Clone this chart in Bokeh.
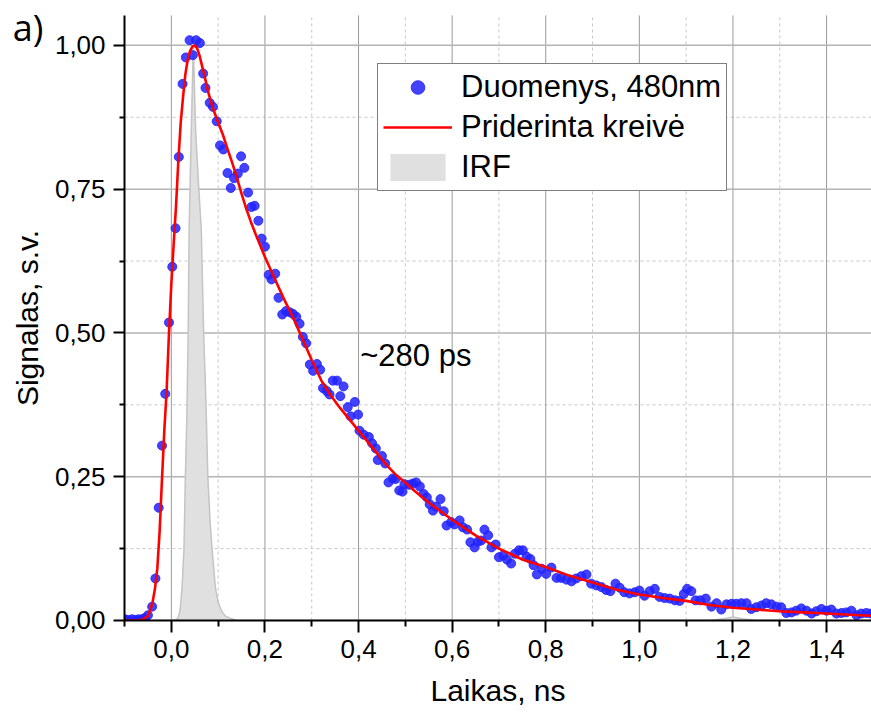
from bokeh.plotting import figure
from bokeh.models import Range1d, FixedTicker, Label, Legend, LegendItem, LinearAxis
from bokeh.embed import file_html
from bokeh.resources import INLINE

# ---------------- data ----------------
data_x = [-0.099, -0.092, -0.084, -0.077, -0.070, -0.063, -0.057, -0.050, -0.041, -0.034,
          -0.027, -0.020, -0.013, -0.005, 0.002, 0.009, 0.016, 0.024, 0.031, 0.039,
          0.046, 0.053, 0.061, 0.068, 0.073, 0.082, 0.089, 0.097, 0.104, 0.111,
          0.120, 0.127, 0.134, 0.142, 0.149, 0.156, 0.164, 0.171, 0.178, 0.186,
          0.193, 0.200, 0.208, 0.214, 0.222, 0.229, 0.237, 0.245, 0.253, 0.260,
          0.267, 0.274, 0.281, 0.288, 0.296, 0.303, 0.311, 0.318, 0.324, 0.332,
          0.338, 0.345, 0.354, 0.361, 0.368, 0.377, 0.383, 0.392, 0.399, 0.402,
          0.411, 0.422, 0.429, 0.437, 0.441, 0.450, 0.457, 0.464, 0.473, 0.479,
          0.487, 0.494, 0.498, 0.508, 0.516, 0.523, 0.531, 0.539, 0.546, 0.552,
          0.559, 0.566, 0.575, 0.582, 0.588, 0.598, 0.605, 0.616, 0.623, 0.632,
          0.639, 0.648, 0.655, 0.662, 0.669, 0.677, 0.684, 0.693, 0.700, 0.709,
          0.717, 0.726, 0.734, 0.743, 0.751, 0.759, 0.767, 0.774, 0.781, 0.791,
          0.801, 0.812, 0.823, 0.833, 0.844, 0.855, 0.865, 0.876, 0.887, 0.897,
          0.908, 0.919, 0.929, 0.938, 0.949, 0.958, 0.968, 0.979, 0.990, 1.000,
          1.011, 1.022, 1.033, 1.043, 1.054, 1.065, 1.076, 1.086, 1.095, 1.102,
          1.111, 1.120, 1.130, 1.142, 1.154, 1.165, 1.175, 1.186, 1.197, 1.207,
          1.218, 1.229, 1.239, 1.250, 1.261, 1.271, 1.282, 1.293, 1.303, 1.314,
          1.325, 1.335, 1.346, 1.357, 1.368, 1.378, 1.389, 1.400, 1.410, 1.421,
          1.432, 1.442, 1.453, 1.464, 1.474, 1.485, 1.495]
data_y = [0.002, 0.001, 0.002, 0.001, 0.002, 0.002, 0.004, 0.009, 0.024, 0.073,
          0.196, 0.304, 0.394, 0.518, 0.615, 0.682, 0.806, 0.933, 0.979, 1.009,
          0.983, 1.009, 1.004, 0.951, 0.926, 0.900, 0.893, 0.868, 0.826, 0.819,
          0.778, 0.752, 0.769, 0.777, 0.807, 0.787, 0.744, 0.719, 0.721, 0.695,
          0.664, 0.650, 0.601, 0.593, 0.603, 0.561, 0.532, 0.538, 0.536, 0.533,
          0.528, 0.516, 0.493, 0.482, 0.445, 0.434, 0.446, 0.436, 0.404, 0.399,
          0.393, 0.417, 0.417, 0.390, 0.407, 0.371, 0.355, 0.380, 0.358, 0.330,
          0.323, 0.319, 0.308, 0.299, 0.279, 0.286, 0.273, 0.240, 0.247, 0.246,
          0.226, 0.224, 0.237, 0.236, 0.238, 0.240, 0.233, 0.220, 0.214, 0.202,
          0.191, 0.198, 0.211, 0.190, 0.165, 0.171, 0.167, 0.174, 0.162, 0.158,
          0.136, 0.127, 0.137, 0.139, 0.158, 0.148, 0.127, 0.132, 0.110, 0.113,
          0.106, 0.099, 0.116, 0.122, 0.122, 0.111, 0.107, 0.096, 0.080, 0.090,
          0.081, 0.092, 0.074, 0.074, 0.071, 0.068, 0.073, 0.077, 0.080, 0.064,
          0.061, 0.058, 0.053, 0.051, 0.064, 0.057, 0.049, 0.047, 0.049, 0.052,
          0.043, 0.051, 0.055, 0.041, 0.039, 0.038, 0.035, 0.034, 0.046, 0.055,
          0.051, 0.035, 0.035, 0.038, 0.024, 0.030, 0.019, 0.028, 0.029, 0.029,
          0.030, 0.030, 0.020, 0.023, 0.026, 0.030, 0.028, 0.024, 0.023, 0.013,
          0.014, 0.017, 0.021, 0.017, 0.012, 0.016, 0.020, 0.017, 0.019, 0.012,
          0.013, 0.014, 0.017, 0.009, 0.012, 0.013, 0.012]

fit_x = [-0.10, -0.07, -0.06, -0.05, -0.045, -0.04, -0.035, -0.03, -0.025, -0.02,
         -0.015, -0.01, -0.005, 0.0, 0.005, 0.01, 0.015, 0.02, 0.025, 0.03,
         0.035, 0.04, 0.045, 0.05, 0.055, 0.06, 0.07, 0.08, 0.09, 0.10,
         0.11, 0.12, 0.13, 0.14, 0.15, 0.16, 0.17, 0.18, 0.19, 0.20,
         0.22, 0.24, 0.26, 0.28, 0.30, 0.32, 0.34, 0.36, 0.38, 0.40,
         0.42, 0.44, 0.46, 0.48, 0.50, 0.52, 0.55, 0.60, 0.65, 0.70,
         0.75, 0.80, 0.85, 0.90, 0.95, 1.00, 1.05, 1.10, 1.15, 1.20,
         1.25, 1.30, 1.35, 1.40, 1.45, 1.50]
fit_y = [0.0, 0.0, 0.002, 0.008, 0.018, 0.032, 0.055, 0.090, 0.155, 0.245,
         0.330, 0.400, 0.500, 0.585, 0.655, 0.720, 0.800, 0.865, 0.910, 0.950,
         0.975, 0.990, 0.998, 1.000, 0.995, 0.983, 0.950, 0.915, 0.888, 0.866,
         0.845, 0.820, 0.796, 0.770, 0.742, 0.716, 0.693, 0.672, 0.652, 0.632,
         0.596, 0.560, 0.527, 0.490, 0.453, 0.418, 0.392, 0.370, 0.350, 0.330,
         0.310, 0.290, 0.270, 0.253, 0.240, 0.225, 0.205, 0.175, 0.148, 0.125,
         0.106, 0.093, 0.078, 0.066, 0.054, 0.045, 0.039, 0.034, 0.027, 0.022,
         0.019, 0.016, 0.014, 0.012, 0.010, 0.008]

irf_x = [-0.10, 0.005, 0.012, 0.016, 0.019, 0.023, 0.027, 0.030, 0.033, 0.036,
         0.038, 0.042, 0.047, 0.052, 0.058, 0.064, 0.069, 0.074, 0.078, 0.083,
         0.087, 0.094, 0.100, 0.107, 0.115, 0.125, 0.140, 1.15, 1.18, 1.20,
         1.22, 1.25, 1.50]
irf_y = [0.0, 0.0, 0.002, 0.008, 0.020, 0.058, 0.125, 0.250, 0.350, 0.500,
         0.680, 0.830, 1.000, 0.850, 0.760, 0.680, 0.500, 0.380, 0.250, 0.170,
         0.125, 0.058, 0.032, 0.017, 0.008, 0.004, 0.0, 0.0, 0.003, 0.006,
         0.003, 0.0, 0.0]

x_ticks = [0.0, 0.2, 0.4, 0.6, 0.8, 1.0, 1.2, 1.4]
x_tick_labels = ["0,0", "0,2", "0,4", "0,6", "0,8", "1,0", "1,2", "1,4"]
x_minor = [-0.1, 0.1, 0.3, 0.5, 0.7, 0.9, 1.1, 1.3, 1.5]
y_ticks = [0.0, 0.25, 0.5, 0.75, 1.0]
y_tick_labels = ["0,00", "0,25", "0,50", "0,75", "1,00"]
y_minor = [0.125, 0.375, 0.625, 0.875]

# ---------------- view / axis extents ----------------
X_START, X_END = -0.365, 1.496        # whole canvas width
Y_START, Y_END = -0.167, 1.078        # whole canvas height
AX_X0, AX_X1 = -0.1, 1.5              # data-area extent in x
AX_Y0, AX_Y1 = 0.0, 1.052             # data-area extent in y

FONT = "Liberation Sans"

p = figure(width=871, height=716, x_range=Range1d(X_START, X_END), y_range=Range1d(Y_START, Y_END),
           x_axis_type=None, y_axis_type=None, title=None,
           output_backend="svg", toolbar_location=None,
           min_border_left=0, min_border_right=0, min_border_top=0, min_border_bottom=0)
p.outline_line_color = None
p.background_fill_color = "white"
p.border_fill_color = "white"

# ---- grid lines (from the tick arrays) ----
vmin = [v for v in x_minor if AX_X0 < v < AX_X1]
p.segment(x0=vmin, y0=[AX_Y0] * len(vmin), x1=vmin, y1=[AX_Y1] * len(vmin),
          line_color="#c8c8c8", line_width=1, line_dash="3 3")
hmin = y_minor
p.segment(x0=[AX_X0] * len(hmin), y0=hmin, x1=[AX_X1] * len(hmin), y1=hmin,
          line_color="#c8c8c8", line_width=1, line_dash="3 3")
p.segment(x0=x_ticks, y0=[AX_Y0] * len(x_ticks), x1=x_ticks, y1=[AX_Y1] * len(x_ticks),
          line_color="#9a9a9a", line_width=1)
hmaj = [v for v in y_ticks if v > AX_Y0]
p.segment(x0=[AX_X0] * len(hmaj), y0=hmaj, x1=[AX_X1] * len(hmaj), y1=hmaj,
          line_color="#b4b4b4", line_width=1.5)

# ---- series ----
irf_area = p.varea(x=irf_x, y1=[0.0] * len(irf_x), y2=irf_y, fill_color="#e0e0e0")
p.line(irf_x, irf_y, line_color="#c4c4c4", line_width=1.5)
pts = p.scatter(data_x, data_y, size=9, fill_color="#2222ff", line_color="#2222ff", alpha=0.85)
fit = p.line(fit_x, fit_y, line_color="#ff0000", line_width=2.6)

# white masks outside the data area (plot clipping)
p.quad(left=[X_START], right=[X_END], bottom=[Y_START], top=[AX_Y0],
       fill_color="white", line_color=None)
p.quad(left=[X_START], right=[AX_X0], bottom=[Y_START], top=[Y_END],
       fill_color="white", line_color=None)

# ---- axes ----
xt = FixedTicker(ticks=x_ticks, minor_ticks=x_minor)
yt = FixedTicker(ticks=y_ticks, minor_ticks=y_minor)
xaxis = LinearAxis(ticker=xt, fixed_location=AX_Y0, bounds=(AX_X0, AX_X1),
                   major_label_overrides=dict(zip(x_ticks, x_tick_labels)),
                   axis_label="Laikas, ns")
yaxis = LinearAxis(ticker=yt, fixed_location=AX_X0, bounds=(AX_Y0, AX_Y1),
                   major_label_overrides=dict(zip(y_ticks, y_tick_labels)),
                   axis_label="Signalas, s.v.")
for ax in (xaxis, yaxis):
    ax.axis_line_color = "black"
    ax.axis_line_width = 2
    ax.major_tick_line_color = "black"
    ax.major_tick_line_width = 2
    ax.minor_tick_line_color = "black"
    ax.minor_tick_line_width = 2
    ax.major_tick_in = 0
    ax.minor_tick_in = 0
    ax.major_label_text_font = FONT
    ax.major_label_text_font_size = "26px"
    ax.major_label_text_color = "black"
    ax.axis_label_text_font = FONT
    ax.axis_label_text_font_size = "30px"
    ax.axis_label_text_font_style = "normal"
    ax.axis_label_text_color = "black"
xaxis.major_tick_out = 12
xaxis.minor_tick_out = 6
yaxis.major_tick_out = 11
yaxis.minor_tick_out = 5
xaxis.major_label_standoff = 8
yaxis.major_label_standoff = 8
xaxis.axis_label_standoff = 12
yaxis.axis_label_standoff = 8
p.add_layout(xaxis, "below")
p.add_layout(yaxis, "left")

# ---- legend ----
legend = Legend(items=[LegendItem(label="Duomenys, 480nm", renderers=[pts]),
                       LegendItem(label="Priderinta kreivė", renderers=[fit]),
                       LegendItem(label="IRF", renderers=[irf_area])],
                location=(377, 525), orientation="vertical")
legend.border_line_color = "black"
legend.border_line_width = 1
legend.background_fill_color = "white"
legend.background_fill_alpha = 1
legend.padding = 5
legend.spacing = 4
legend.margin = 0
legend.glyph_width = 69
legend.glyph_height = 34
legend.label_height = 34
legend.label_standoff = 9
legend.label_text_font = FONT
legend.label_text_font_size = "31px"
legend.label_text_color = "black"
p.add_layout(legend)

# ---- texts ----
p.add_layout(Label(x=-0.339, y=0.988, text="a)", text_font="Open Sans",
                   text_font_size="36px", text_color="black"))
p.add_layout(Label(x=0.4036, y=0.431, text="~280 ps", text_font=FONT,
                   text_font_size="31px", text_color="black"))

open("out.html", "w").write(file_html(p, INLINE))
